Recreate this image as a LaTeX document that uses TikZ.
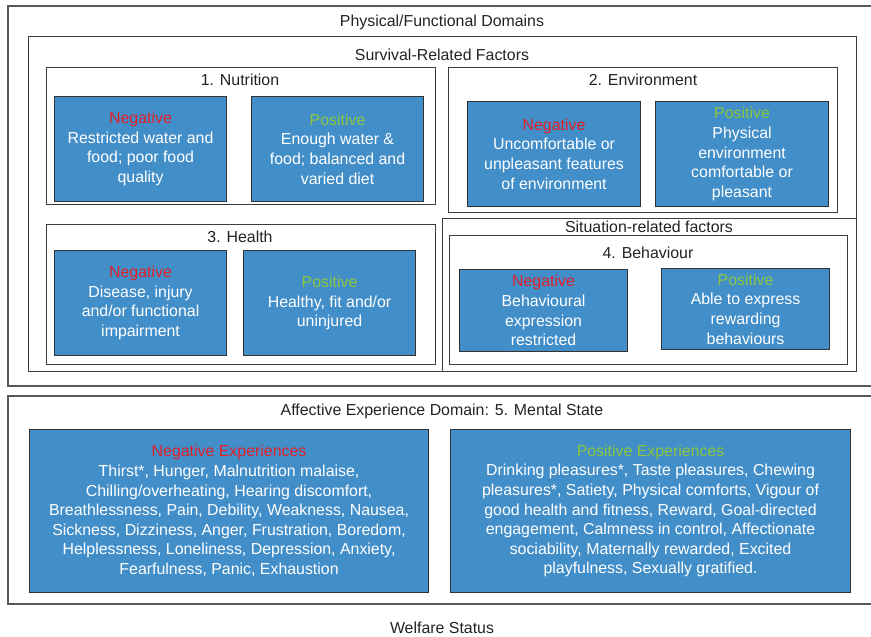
\documentclass[tikz,border=0pt]{standalone}
\usepackage{fontspec}
\setmainfont{Liberation Sans}
\usepackage{xcolor}
\usepackage{tikz}
\definecolor{boxblue}{RGB}{66,142,201}
\definecolor{negred}{RGB}{226,32,40}
\definecolor{posgreen}{RGB}{141,198,63}
\definecolor{framecol}{RGB}{60,60,60}
\definecolor{titlecol}{RGB}{35,35,35}
\newcommand{\neglab}[1]{\textcolor{negred}{#1}}
\newcommand{\poslab}[1]{\textcolor{posgreen}{#1}}
\tikzset{
  frame/.style={rectangle, draw=framecol, line width=1.3pt, anchor=north west,
                inner sep=0pt},
  outerframe/.style={frame, draw=framecol!85, line width=1.5pt},
  ttl/.style={anchor=base, inner sep=0pt, text=titlecol},
  factbox/.style={rectangle, draw=black!80, line width=1.1pt, fill=boxblue,
                  anchor=north west, align=center, text=white, inner sep=2pt},
}

\begin{document}
\begin{tikzpicture}[x=1pt, y=-1pt, font=\fontsize{15.9}{19.6}\selectfont]
  \clip (0,0) rectangle (871,637);
  % domain frames
  \node[outerframe, minimum width=900pt, minimum height=380pt] (physdom) at (7,5) {};
  \node[frame, minimum width=828pt, minimum height=335pt] (survfac) at (28,36) {};
  \node[frame, minimum width=414pt, minimum height=153pt] (situfac) at (442,218) {};
  \node[frame, minimum width=389pt, minimum height=137pt] (nutr) at (46,67) {};
  \node[frame, minimum width=389pt, minimum height=145pt] (env) at (448,67) {};
  \node[frame, minimum width=389pt, minimum height=140pt] (hlt) at (46,224) {};
  \node[frame, minimum width=398pt, minimum height=129pt] (beh) at (449,235) {};
  \node[outerframe, minimum width=900pt, minimum height=208pt] (affdom) at (7,395) {};
  % titles
  \node[ttl] (physdomt) at (442,26) {Physical/Functional Domains};
  \node[ttl] (survfact) at (442,60) {Survival-Related Factors};
  \node[ttl] (nutrt) at (240,85) {1. Nutrition};
  \node[ttl] (envt) at (643,85) {2. Environment};
  \node[ttl] (hltt) at (240,242) {3. Health};
  \node[ttl] (situfact) at (649,232) {Situation-related factors};
  \node[ttl] (beht) at (648,258) {4. Behaviour};
  \node[ttl] (affdomt) at (442,415) {Affective Experience Domain: 5. Mental State};
  \node[ttl] (welfare) at (442,633) {Welfare Status};
  % negative / positive boxes
  \node[factbox, minimum width=172pt, minimum height=105pt] (nutrneg) at (54,96)
    {\neglab{Negative}\\Restricted water and\\food; poor food\\quality};
  \node[factbox, minimum width=172pt, minimum height=105pt] (nutrpos) at (251,96)
    {\poslab{Positive}\\Enough water \&\\food; balanced and\\varied diet};
  \node[factbox, minimum width=173pt, minimum height=105pt] (envneg) at (467,101)
    {\neglab{Negative}\\Uncomfortable or\\unpleasant features\\of environment};
  \node[factbox, minimum width=173pt, minimum height=105pt] (envpos) at (655,101)
    {\poslab{Positive}\\Physical\\environment\\comfortable or\\pleasant};
  \node[factbox, minimum width=172pt, minimum height=105pt] (hltneg) at (54,250)
    {\neglab{Negative}\\Disease, injury\\and/or functional\\impairment};
  \node[factbox, minimum width=172pt, minimum height=105pt] (hltpos) at (243,250)
    {\poslab{Positive}\\Healthy, fit and/or\\uninjured};
  \node[factbox, minimum width=168pt, minimum height=82pt] (behneg) at (459,269)
    {\neglab{Negative}\\Behavioural\\expression\\restricted};
  \node[factbox, minimum width=168pt, minimum height=81pt] (behpos) at (661,268)
    {\poslab{Positive}\\Able to express\\rewarding\\behaviours};
  \node[factbox, minimum width=399pt, minimum height=163pt] (expneg) at (29,429)
    {\neglab{Negative Experiences}\\
     Thirst*, Hunger, Malnutrition malaise,\\
     Chilling/overheating, Hearing discomfort,\\
     Breathlessness, Pain, Debility, Weakness, Nausea,\\
     Sickness, Dizziness, Anger, Frustration, Boredom,\\
     Helplessness, Loneliness, Depression, Anxiety,\\
     Fearfulness, Panic, Exhaustion};
  \node[factbox, minimum width=400pt, minimum height=163pt] (exppos) at (450,429)
    {\poslab{Positive Experiences}\\
     Drinking pleasures*, Taste pleasures, Chewing\\
     pleasures*, Satiety, Physical comforts, Vigour of\\
     good health and fitness, Reward, Goal-directed\\
     engagement, Calmness in control, Affectionate\\
     sociability, Maternally rewarded, Excited\\
     playfulness, Sexually gratified.};
\end{tikzpicture}
\end{document}
